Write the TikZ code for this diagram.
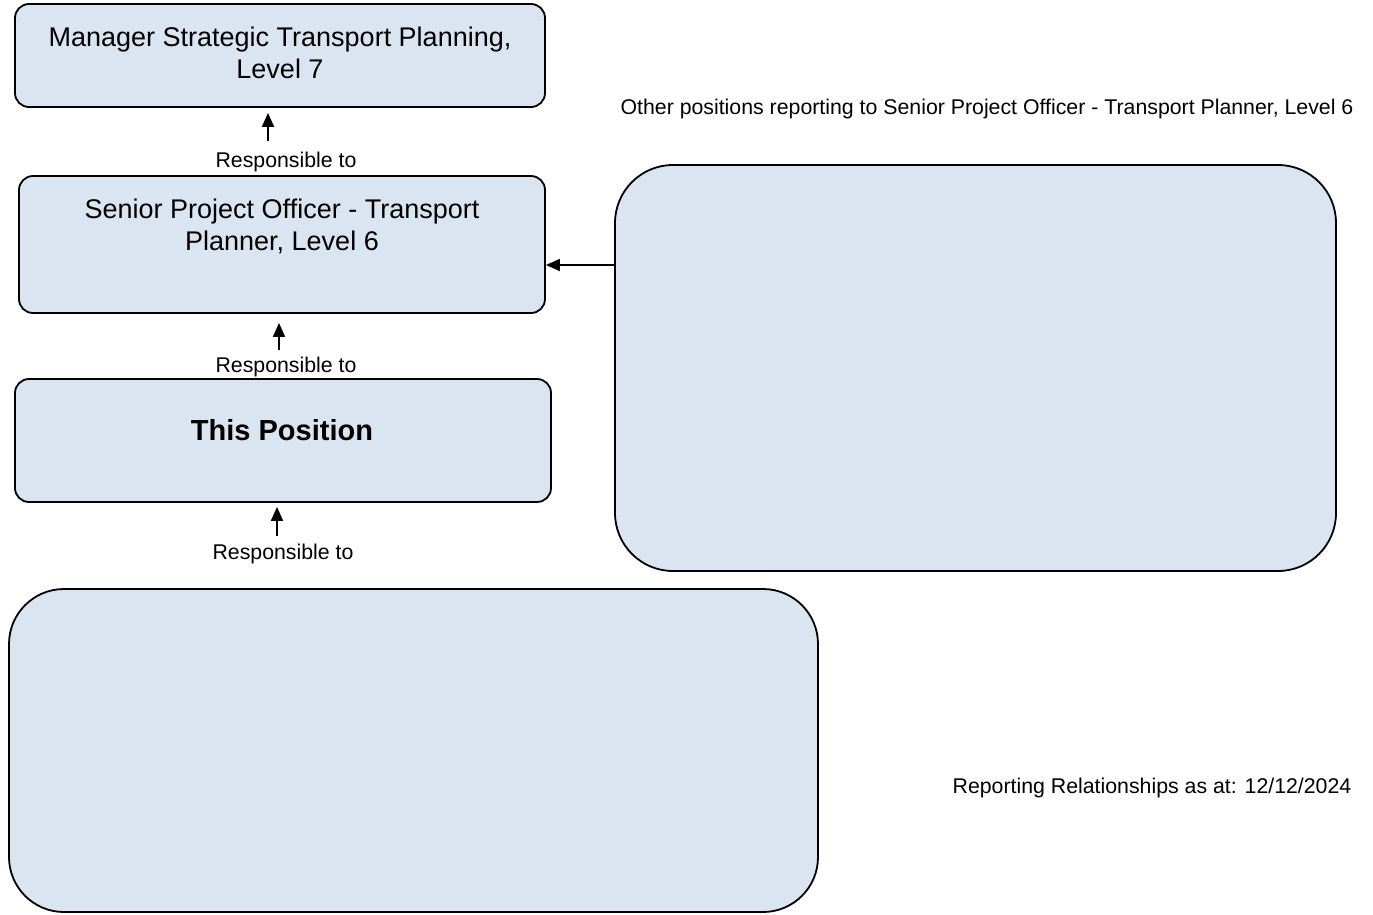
\documentclass[tikz,border=0pt]{standalone}
\usepackage{fontspec}
\setmainfont{Liberation Sans}
\usetikzlibrary{arrows.meta}
\definecolor{boxfill}{HTML}{DBE5F1}
\tikzset{
	posbox/.style={draw,fill=boxfill,line width=1.8pt,rounded corners=14pt,inner sep=0pt},
	bigbox/.style={posbox,rounded corners=58pt},
	boxtext/.style={align=center,font=\fontsize{27}{32}\selectfont},
	small/.style={font=\fontsize{21.3}{25}\selectfont},
	resp/.style={-{Triangle[length=14pt,width=12pt]},line width=1.8pt}
}
\begin{document}
\begin{tikzpicture}[x=1pt,y=-1pt]
		\useasboundingbox (0,0) rectangle (1373,914);
		% position boxes
		\node[posbox,minimum width=530pt,minimum height=103pt] (mgr) at (280,55.5) {};
		\node[boxtext] (mgrtext) at (280,53) {Manager Strategic Transport Planning,\\Level 7};
		\node[posbox,minimum width=526pt,minimum height=137pt] (spo) at (282,244.5) {};
		\node[boxtext] (spotext) at (282,226) {Senior Project Officer - Transport\\Planner, Level 6};
		\node[posbox,minimum width=536pt,minimum height=123pt] (pos) at (283,440.5) {};
		\node[boxtext,font=\fontsize{29}{34}\selectfont\bfseries] (postext) at (282,430) {This Position};
		\node[bigbox,minimum width=721pt,minimum height=406pt] (others) at (975.5,368) {};
		\node[bigbox,rounded corners=55pt,minimum width=809pt,minimum height=323pt] (subs) at (413.5,750.5) {};
		% labels
		\node[small] (resp1) at (286,162) {Responsible to};
		\node[small] (resp2) at (286,367) {Responsible to};
		\node[small] (resp3) at (283,554) {Responsible to};
		\node[small] (othertitle) at (987,109) {Other positions reporting to Senior Project Officer - Transport Planner, Level 6};
		\node[small] (asat) at (1152,788) {Reporting Relationships as at: 12/12/2024};
		% reporting lines
		\draw[resp] ([xshift=-18pt,yshift=8pt]resp1.north) -- ([xshift=-18pt,yshift=-5pt]resp1.north |- mgr.south);
		\draw[resp] ([xshift=-7pt,yshift=4pt]resp2.north) -- ([xshift=-7pt,yshift=-9pt]resp2.north |- spo.south);
		\draw[resp] ([xshift=-6pt,yshift=5pt]resp3.north) -- ([xshift=-6pt,yshift=-4pt]resp3.north |- pos.south);
		\draw[resp] ([yshift=-20.5pt]spo.east -| others.west) -- ([yshift=-20.5pt]spo.east);
	\end{tikzpicture}
\end{document}
